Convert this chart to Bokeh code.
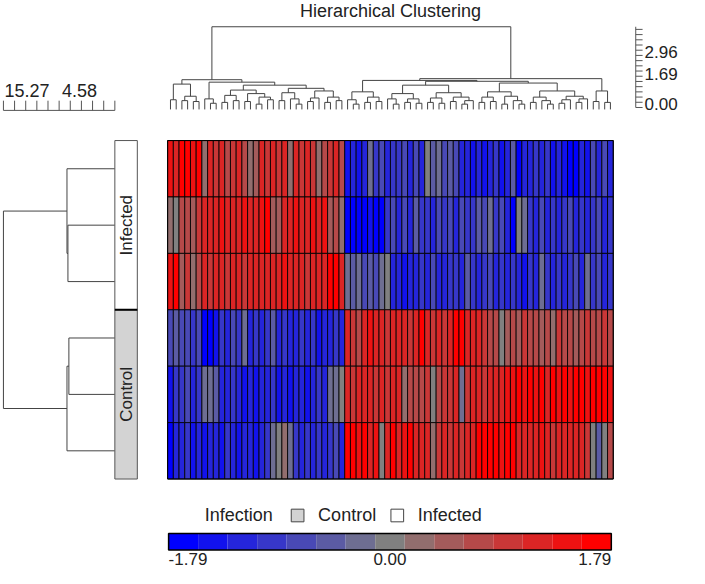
from bokeh.plotting import figure
from bokeh.models import Range1d, ColumnDataSource, LinearColorMapper
from bokeh.transform import transform
from bokeh.core.properties import value
from bokeh.embed import file_html
from bokeh.resources import INLINE
import math

# ---------------- data ----------------
title_text = "Hierarchical Clustering"
row_groups = ["Infected", "Infected", "Infected", "Control", "Control", "Control"]

row_1 = [1.5, 1.3, 1.7, 1.6, 1.4, 1.6, 0.3, 1.1, 0.9, 1.2, 0.6, 1.0, 1.1, 0.8, 0.3, 0.5,
         1.2, 1.0, 1.3, 0.9, 1.1, 0.2, 1.2, 1.0, 1.1, 0.9, 0.3, 0.6, 1.0, 1.2, 0.8,
         -1.4, -1.2, -1.5, -1.3, -0.2, -1.0, -0.6, -1.2, -0.9, -1.0, -0.7, -1.2, -0.8, -1.1,
         0.0, -0.5, -0.3, -0.6, -0.4, -0.7, -1.3, -1.1, -1.4, -1.2, -1.5, -1.3, -1.0, -1.4,
         -1.1, -0.5, -1.7, -1.1, -1.2, -0.9, -1.3, -1.0, -1.4, -1.2, -1.5, -1.6, -1.7, -1.3,
         -1.5, -0.6, -1.2, -0.8, -1.3]
row_2 = [0.3, 0.0, 0.6, 0.8, 0.5, 0.9, 1.2, 1.3, 1.1, 1.4, 1.2, 1.3, 1.1, 1.4, 1.2, 1.3,
         1.5, 1.7, 0.5, 0.4, 1.3, 1.1, 1.4, 1.2, 1.3, 1.4, 1.2, 1.5, 0.5, 0.6, 0.3,
         -1.6, -1.7, -1.6, -1.7, -1.5, -1.7, -1.6, -1.0, -0.6, -1.1, -0.8, -1.2, -0.5, -1.0,
         -0.9, -1.1, -0.7, -1.0, -0.8, -1.1, -0.6, -0.9, -1.0, -0.4, -0.8, -0.3, -1.0, -0.7,
         -1.1, -1.7, 0.1, -0.3, -1.0, -1.2, -0.8, -1.1, -0.9, -1.2, -1.0, -0.8, -1.1, -0.9,
         -1.2, -1.0, -0.7, -1.1, -0.9]
row_3 = [1.5, 1.6, 0.5, 0.9, 0.2, 0.6, 1.1, 1.0, 1.2, 1.3, 1.0, 1.1, 1.2, 0.9, 1.3, 1.1,
         1.2, 1.3, 1.1, 1.2, 1.4, 1.1, 1.3, 1.2, 1.0, 1.3, 1.2, 1.1, 1.7, 1.7, 1.2,
         -0.3, -0.5, -0.2, -0.6, -0.4, -0.7, -0.2, -0.1, -1.3, -1.2, -1.4, -1.1, -1.3, -1.0,
         -1.2, -0.8, -1.1, -1.3, -0.9, -1.0, -1.2, -0.5, -0.9, -1.1, -1.0, -0.8, -1.2, -1.0,
         -1.3, -0.9, -1.1, -1.4, -1.0, -1.2, -0.2, -1.0, -1.1, -0.9, -1.2, -1.0, -0.8, -1.1,
         -0.3, -1.0, -0.7, -1.1, -0.9]
row_4 = [-0.7, -0.4, -0.8, -0.6, -0.9, -0.7, -1.7, -1.6, -1.5, -0.9, -1.1, -0.8, -1.0, -0.3,
         -1.2, -0.9, -1.1, -1.0, -0.4, -1.2, -1.0, -1.3, -1.1, -0.9, -1.2, -1.0, -1.4, -1.1,
         -1.3, -1.0, -1.2,
         1.3, 1.0, 0.7, 1.2, 1.4, 1.1, 1.3, 1.0, 1.2, 1.1, 1.2, 1.0, 1.3, 1.7, 1.1, 0.9, 1.2,
         1.0, 1.3, 1.7, 1.6, 1.2, 1.1, 1.3, 1.0, 0.6, 0.8, -0.1, 0.5, 0.7, 0.4, 0.9, 0.6, 0.8,
         0.5, 0.7, 0.3, 0.9, 0.6, 0.8, 0.5, 0.7, 0.9, 0.6, 0.8, 1.0, 0.6]
row_5 = [-1.5, -0.9, -1.0, -0.8, -1.1, -0.9, -0.3, -0.2, -0.4, -1.1, -1.3, -1.0, -1.2, -1.4,
         -1.1, -1.5, -1.2, -1.3, -1.0, -1.4, -1.2, -1.5, -1.3, -1.1, -1.4, -1.2, -1.0, -1.3,
         -0.3, -0.2, 0.1,
         1.2, 1.0, 1.3, 1.1, 1.2, 0.9, 1.1, 1.0, 1.2, 1.1, 0.2, 0.7, 0.8, 0.6, 0.9, 0.1, 0.8,
         1.0, 0.9, 1.1, -0.2, 1.0, 1.1, 1.2, 1.0, 1.3, 1.2, 1.1, 1.4, 1.5, 1.6, 1.4, 1.7, 1.5,
         1.6, 1.3, 1.7, 1.5, 1.6, 1.4, 1.7, 1.6, 1.5, 1.7, 1.6, 1.7, 1.5]
row_6 = [-1.7, -1.1, -1.3, -1.0, -1.4, -1.2, -1.5, -1.1, -1.3, -1.4, -1.0, -1.2, -1.5, -1.3,
         -1.1, -1.4, -1.2, -1.0, -0.2, 0.0, 0.3, -0.2, -0.9, -1.1, -1.0, -1.2, -0.9, -1.1,
         -1.0, -0.8, -1.1,
         1.6, 1.7, 1.4, 1.6, 1.3, 1.5, 0.0, 1.3, 1.6, 1.2, 1.4, 1.7, 1.3, 1.1, 1.2, 0.2, 1.0,
         1.1, 0.9, 1.2, 1.0, 1.1, 1.3, 1.7, 1.6, 1.7, 1.7, 1.5, 1.7, 1.6, 1.2, 1.3, 1.1, 1.2,
         1.4, 1.2, 1.0, 1.3, 1.2, 1.1, 1.3, 1.2, 1.0, 0.0, -0.5, 0.1, 0.6]
matrix = [row_1, row_2, row_3, row_4, row_5, row_6]

# column dendrogram: leaves are column indices, nodes are [left, right, height]
col_left = [[[0, 1, 0.55], [[2, 3, 0.5], [4, 5, 0.45], 0.75], 1.44],
            [[6, [7, 8, 0.35], 0.6],
             [[[[9, 10, 0.4], [11, 12, 0.5], 0.8],
               [[13, 14, 0.45], [[15, 16, 0.3], [17, 18, 0.55], 0.7], 0.9], 1.1],
              [[[19, 20, 0.5], [21, [22, 23, 0.3], 0.6], 0.95],
               [[[24, 25, 0.45], 26, 0.65], [[27, 28, 0.4], [29, 30, 0.5], 0.7], 1.05], 1.2],
              1.38], 1.55], 1.69]
col_right = [[[[31, [32, 33, 0.3], 0.55], [[34, 35, 0.4], [36, 37, 0.45], 0.7], 1.0],
              [[[[38, [39, 40, 0.3], 0.6], [[41, 42, 0.4], [43, 44, 0.35], 0.6], 0.9],
                [[[45, 46, 0.4], [47, 48, 0.35], 0.65],
                 [[49, 50, 0.45], [[51, 52, 0.3], 53, 0.5], 0.7], 0.95], 1.38],
               [[[[54, 55, 0.4], [56, 57, 0.45], 0.7],
                 [[58, 59, 0.3], [60, [61, 62, 0.3], 0.5], 0.75], 1.0],
                [[[63, 64, 0.4], [65, [66, 67, 0.3], 0.5], 0.7],
                 [[[68, 69, 0.35], 70, 0.55], [[71, 72, 0.4], 73, 0.6], 0.75], 1.05], 1.5],
               1.6], 1.65],
             [[74, 75, 0.45], [76, 77, 0.4], 1.05], 1.75]
col_tree = [col_left, col_right, 4.70]

# row dendrogram
row_tree = [[0, [1, 2, 6.43], 6.56], [[3, 4, 6.30], 5, 6.56], 15.27]

top_scale_values = [2.96, 1.69, 0.00]
top_scale_labels = ["2.96", "1.69", "0.00"]
left_scale_labels = ["15.27", "4.58"]
cbar_low, cbar_high = -1.79, 1.79
cbar_labels = ["-1.79", "0.00", "1.79"]
legend_title = "Infection"
legend_items = ["Control", "Infected"]
group_fill = {"Infected": "#ffffff", "Control": "#d3d3d3"}

# ---------------- layout (reference pixel space) ----------------
W, H = 705, 584
HX0, HX1, HY0, HY1 = 171, 627, 144, 492
ncols, nrows = len(row_1), len(matrix)
cw = (HX1 - HX0) / ncols
rh = (HY1 - HY0) / nrows
TY0 = 112.0                       # top dendrogram baseline
TK = (TY0 - 27.0) / col_tree[2]   # px per unit
LX0 = 117.0                       # left dendrogram baseline
LK = (LX0 - 3.0) / row_tree[2]
SBX0, SBX1 = 117, 140
FONT = "Liberation Sans"
LINE = "#444444"

# palette blue -> gray -> red
N = 15
def lerp(c1, c2, f):
    return tuple(int(round(a + (b - a) * f)) for a, b in zip(c1, c2))
palette = []
for k in range(N):
    t = k / (N - 1) * 2 - 1
    c = lerp((0, 0, 255), (128, 128, 128), t + 1) if t < 0 else lerp((128, 128, 128), (255, 0, 0), t)
    palette.append("#%02x%02x%02x" % c)
mapper = LinearColorMapper(palette=palette, low=cbar_low, high=cbar_high)

p = figure(width=689, height=568, x_range=Range1d(0, W), y_range=Range1d(H, 0),
           output_backend="svg", toolbar_location=None, min_border=0,
           x_axis_type=None, y_axis_type=None)
p.grid.visible = False
p.outline_line_color = None

# heatmap
hx, hy, hv = [], [], []
for r, row in enumerate(matrix):
    for c, v in enumerate(row):
        hx.append(HX0 + (c + 0.5) * cw)
        hy.append(HY0 + (r + 0.5) * rh)
        hv.append(v)
src = ColumnDataSource(dict(x=hx, y=hy, v=hv))
p.rect(x="x", y="y", width=cw, height=rh, source=src,
       fill_color=transform("v", mapper), line_color="black", line_width=1, line_alpha=0.85)
p.rect(x=[(HX0 + HX1) / 2], y=[(HY0 + HY1) / 2], width=HX1 - HX0, height=HY1 - HY0,
       fill_color=None, line_color="black", line_width=1)

# dendrograms
def walk(node, out):
    if isinstance(node, int):
        return float(node), 0.0
    a, b, h = node
    pa, ha = walk(a, out)
    pb, hb = walk(b, out)
    out.append((pa, ha, pa, h))
    out.append((pb, hb, pb, h))
    out.append((pa, h, pb, h))
    return (pa + pb) / 2, h

top_segs = []
walk(col_tree, top_segs)
p.segment(x0=[HX0 + (s[0] + 0.5) * cw for s in top_segs], y0=[TY0 - TK * s[1] for s in top_segs],
          x1=[HX0 + (s[2] + 0.5) * cw for s in top_segs], y1=[TY0 - TK * s[3] for s in top_segs],
          line_color=LINE, line_width=1)

left_segs = []
walk(row_tree, left_segs)
p.segment(y0=[HY0 + (s[0] + 0.5) * rh for s in left_segs], x0=[LX0 - LK * s[1] for s in left_segs],
          y1=[HY0 + (s[2] + 0.5) * rh for s in left_segs], x1=[LX0 - LK * s[3] for s in left_segs],
          line_color=LINE, line_width=1)

# side annotation bar
start = 0
for r in range(1, nrows + 1):
    if r == nrows or row_groups[r] != row_groups[start]:
        g = row_groups[start]
        top, bot = HY0 + start * rh, HY0 + r * rh
        p.quad(left=[SBX0], right=[SBX1], top=[top], bottom=[bot],
               fill_color=group_fill[g], line_color="#555555", line_width=1)
        p.text(x=[(SBX0 + SBX1) / 2], y=[(top + bot) / 2], text=[g], angle=math.pi / 2,
               text_align="center", text_baseline="middle", text_font=value(FONT),
               text_font_size="17px", text_color="#222222")
        start = r
p.segment(x0=[SBX0], x1=[SBX1], y0=[HY0 + 3 * rh], y1=[HY0 + 3 * rh], line_color="black", line_width=2)

# title
p.text(x=[(HX0 + HX1) / 2], y=[11], text=[title_text], text_align="center", text_baseline="middle",
       text_font=value(FONT), text_font_size="18px", text_color="#222222")

# top-right scale
SX = 650
top_h = col_tree[2]
p.segment(x0=[SX], x1=[SX], y0=[TY0 - 2], y1=[TY0 - TK * top_h], line_color="#555555", line_width=1)
tick_vals = [k * 0.296 for k in range(16)]
p.segment(x0=[SX] * len(tick_vals), x1=[SX + 7] * len(tick_vals),
          y0=[TY0 - 2 - TK * v for v in tick_vals], y1=[TY0 - 2 - TK * v for v in tick_vals],
          line_color="#555555", line_width=1)
p.text(x=[SX + 9] * 3, y=[TY0 - 6 - TK * v for v in top_scale_values], text=top_scale_labels,
       text_align="left", text_baseline="middle", text_font=value(FONT), text_font_size="17px",
       text_color="#222222")

# left scale
LY = 113
p.segment(x0=[LX0 - LK * row_tree[2]], x1=[LX0], y0=[LY], y1=[LY], line_color="#555555", line_width=1)
lt = [LX0 - LK * row_tree[2] * k / 10 for k in range(11)]
p.segment(x0=lt, x1=lt, y0=[LY - 10] * 11, y1=[LY] * 11, line_color="#555555", line_width=1)
p.text(x=[4, 63], y=[93, 93], text=left_scale_labels, text_align="left", text_baseline="middle",
       text_font=value(FONT), text_font_size="18px", text_color="#222222")

# legend
LGY = 529.5
p.text(x=[209], y=[LGY], text=[legend_title], text_align="left", text_baseline="middle",
       text_font=value(FONT), text_font_size="18px", text_color="#222222")
p.rect(x=[304, 406], y=[LGY, LGY], width=13, height=13,
       fill_color=[group_fill[g] for g in legend_items], line_color="#444444", line_width=1)
p.text(x=[325, 427], y=[LGY, LGY], text=legend_items, text_align="left", text_baseline="middle",
       text_font=value(FONT), text_font_size="18px", text_color="#222222")

# colour bar
CBX0, CBX1, CBY0, CBY1 = 172, 625, 548, 565
step = (CBX1 - CBX0) / N
cb_vals = [cbar_low + (k + 0.5) * (cbar_high - cbar_low) / N for k in range(N)]
cb_src = ColumnDataSource(dict(left=[CBX0 + k * step for k in range(N)],
                               right=[CBX0 + (k + 1) * step for k in range(N)], v=cb_vals))
p.quad(left="left", right="right", top=CBY0, bottom=CBY1, source=cb_src,
       fill_color=transform("v", mapper), line_color=None)
p.quad(left=[CBX0], right=[CBX1], top=[CBY0], bottom=[CBY1], fill_color=None,
       line_color="black", line_width=1.5)
p.text(x=[CBX0, (CBX0 + CBX1) / 2, CBX1], y=[574.5] * 3, text=cbar_labels,
       text_align=["left", "center", "right"], text_baseline="middle",
       text_font=value(FONT), text_font_size="17px", text_color="#222222")

open("out.html", "w").write(file_html(p, INLINE))
